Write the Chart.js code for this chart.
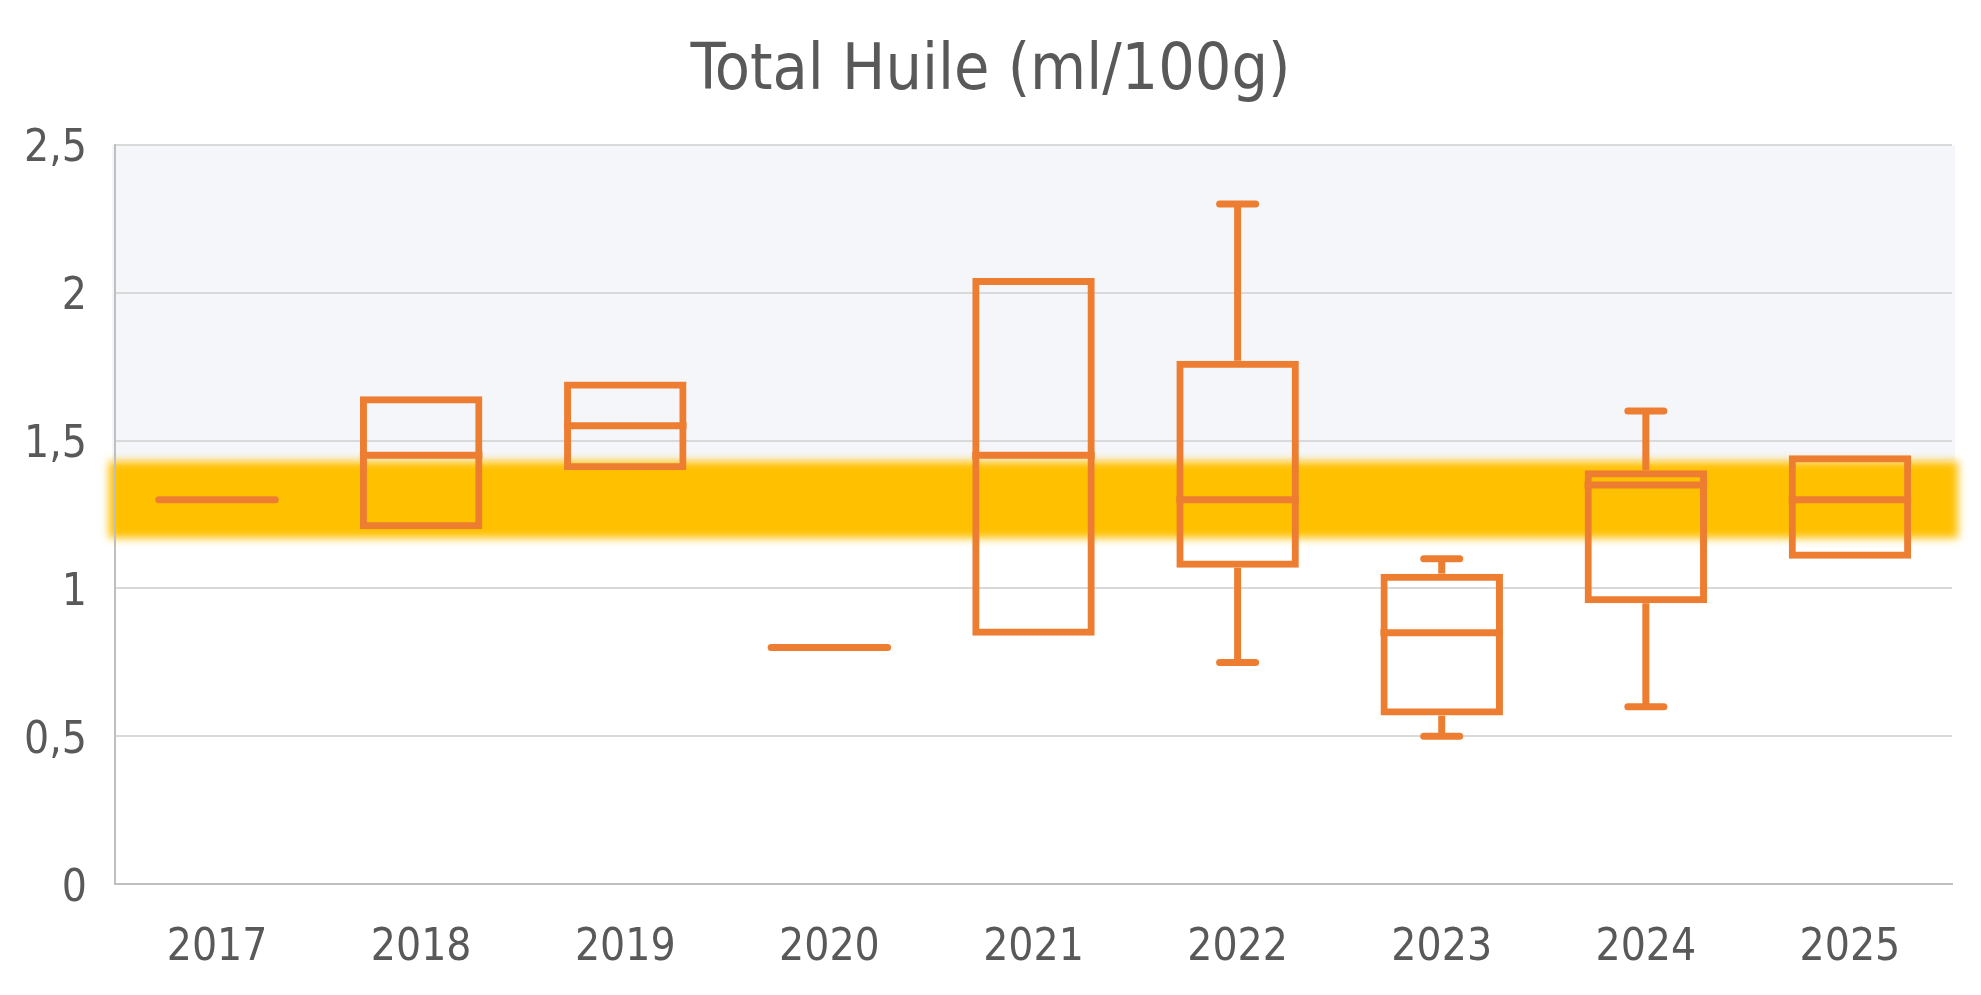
<!DOCTYPE html>
<html>
<head>
<meta charset="utf-8">
<script src="https://cdn.jsdelivr.net/npm/chart.js@4"></script>
<style>
  html, body { margin: 0; padding: 0; background: #ffffff; overflow: hidden; }
  canvas { display: block; }
</style>
</head>
<body>
<canvas id="boxchart" width="1981" height="995" style="width:1981px;height:995px"></canvas>
<script>
const years   = ['2017', '2018', '2019', '2020', '2021', '2022', '2023', '2024', '2025'];
const mins    = [1.3, 1.2,  1.4,  0.8, 0.84, 0.75, 0.5,  0.6,  1.1];
const q1s     = [1.3, 1.2,  1.4,  0.8, 0.84, 1.07, 0.57, 0.95, 1.1];
const medians = [1.3, 1.45, 1.55, 0.8, 1.45, 1.3,  0.85, 1.35, 1.3];
const q3s     = [1.3, 1.65, 1.7,  0.8, 2.05, 1.77, 1.05, 1.4,  1.45];
const maxs    = [1.3, 1.65, 1.7,  0.8, 2.05, 2.3,  1.1,  1.6,  1.45];
const yTicks  = [0, 0.5, 1, 1.5, 2, 2.5];

// target band shown in yellow
const bandLow = 1.17;
const bandHigh = 1.43;

const orange = '#ED7D31';
const LW = 7;
const FONT = '"DejaVu Sans Condensed", "DejaVu Sans", sans-serif';

Chart.defaults.color = '#595959';
Chart.defaults.font.family = FONT;

// shaded background + blurred yellow band, drawn behind everything
const bandPlugin = {
  id: 'band',
  beforeDraw(chart) {
    const { ctx, chartArea: a, scales: { y } } = chart;
    const top = y.getPixelForValue(yTicks[yTicks.length - 1]);
    const hi = y.getPixelForValue(bandHigh);
    const lo = y.getPixelForValue(bandLow);
    ctx.save();
    ctx.fillStyle = '#F5F6FA';
    ctx.fillRect(a.left - 3, top, a.right - a.left + 6, hi - top);
    ctx.filter = 'blur(4px)';
    ctx.fillStyle = '#FFC000';
    ctx.fillRect(a.left - 6, hi, a.right - a.left + 12, lo - hi);
    ctx.restore();
  }
};

// medians and whiskers
const whiskerPlugin = {
  id: 'whiskers',
  afterDatasetsDraw(chart) {
    const { ctx, scales: { x, y } } = chart;
    const half = (x.width / years.length) * 0.6 / 2;
    ctx.save();
    ctx.strokeStyle = orange;
    ctx.lineWidth = LW;
    years.forEach((yr, i) => {
      const cx = x.getPixelForValue(i);
      const flat = q1s[i] === q3s[i];
      // median
      ctx.lineCap = flat ? 'round' : 'butt';
      ctx.beginPath();
      const ym = y.getPixelForValue(medians[i]);
      ctx.moveTo(cx - half + (flat ? 3 : 0), ym);
      ctx.lineTo(cx + half - (flat ? 3 : 0), ym);
      ctx.stroke();
      // whiskers
      [[q3s[i], maxs[i]], [q1s[i], mins[i]]].forEach(([from, to]) => {
        if (from === to) return;
        ctx.lineCap = 'butt';
        ctx.beginPath();
        ctx.moveTo(cx, y.getPixelForValue(from));
        ctx.lineTo(cx, y.getPixelForValue(to));
        ctx.stroke();
        ctx.lineCap = 'round';
        ctx.beginPath();
        ctx.moveTo(cx - 18, y.getPixelForValue(to));
        ctx.lineTo(cx + 18, y.getPixelForValue(to));
        ctx.stroke();
      });
    });
    ctx.restore();
  }
};

new Chart(document.getElementById('boxchart'), {
  type: 'bar',
  data: {
    labels: years,
    datasets: [{
      data: years.map((_, i) => q1s[i] === q3s[i] ? null : [q1s[i], q3s[i]]),
      backgroundColor: 'rgba(0,0,0,0)',
      borderColor: orange,
      borderWidth: LW,
      borderSkipped: false,
      categoryPercentage: 1,
      barPercentage: 0.6
    }]
  },
  options: {
    responsive: false,
    devicePixelRatio: 1,
    animation: false,
    layout: { padding: { top: 34, left: 0, right: 0, bottom: -18 } },
    plugins: {
      legend: { display: false },
      tooltip: { enabled: false },
      title: {
        display: true,
        text: 'Total Huile (ml/100g)',
        color: '#595959',
        font: { size: 64, weight: 'normal', family: FONT },
        padding: { top: 0, bottom: 34 }
      }
    },
    scales: {
      x: {
        grid: { display: false, drawTicks: false },
        border: { display: true, color: '#BFBFBF', width: 2 },
        ticks: { font: { size: 44 }, padding: 38 }
      },
      y: {
        min: 0,
        max: 2.5,
        afterBuildTicks(axis) { axis.ticks = yTicks.map(v => ({ value: v })); },
        afterFit(axis) { axis.width = 115; },
        grid: { color: '#D9D9D9', lineWidth: 2, drawTicks: false },
        border: { display: true, color: '#BFBFBF', width: 2 },
        ticks: {
          font: { size: 44 },
          padding: 28,
          labelOffset: 5,
          callback: v => String(v).replace('.', ',')
        }
      },
      // empty spacer on the right so the title stays centred on the page
      spacer: {
        type: 'linear',
        position: 'right',
        afterFit(axis) { axis.width = 29; },
        grid: { display: false, drawTicks: false },
        border: { display: false },
        ticks: { display: false }
      }
    }
  },
  plugins: [bandPlugin, whiskerPlugin]
});
</script>
</body>
</html>
